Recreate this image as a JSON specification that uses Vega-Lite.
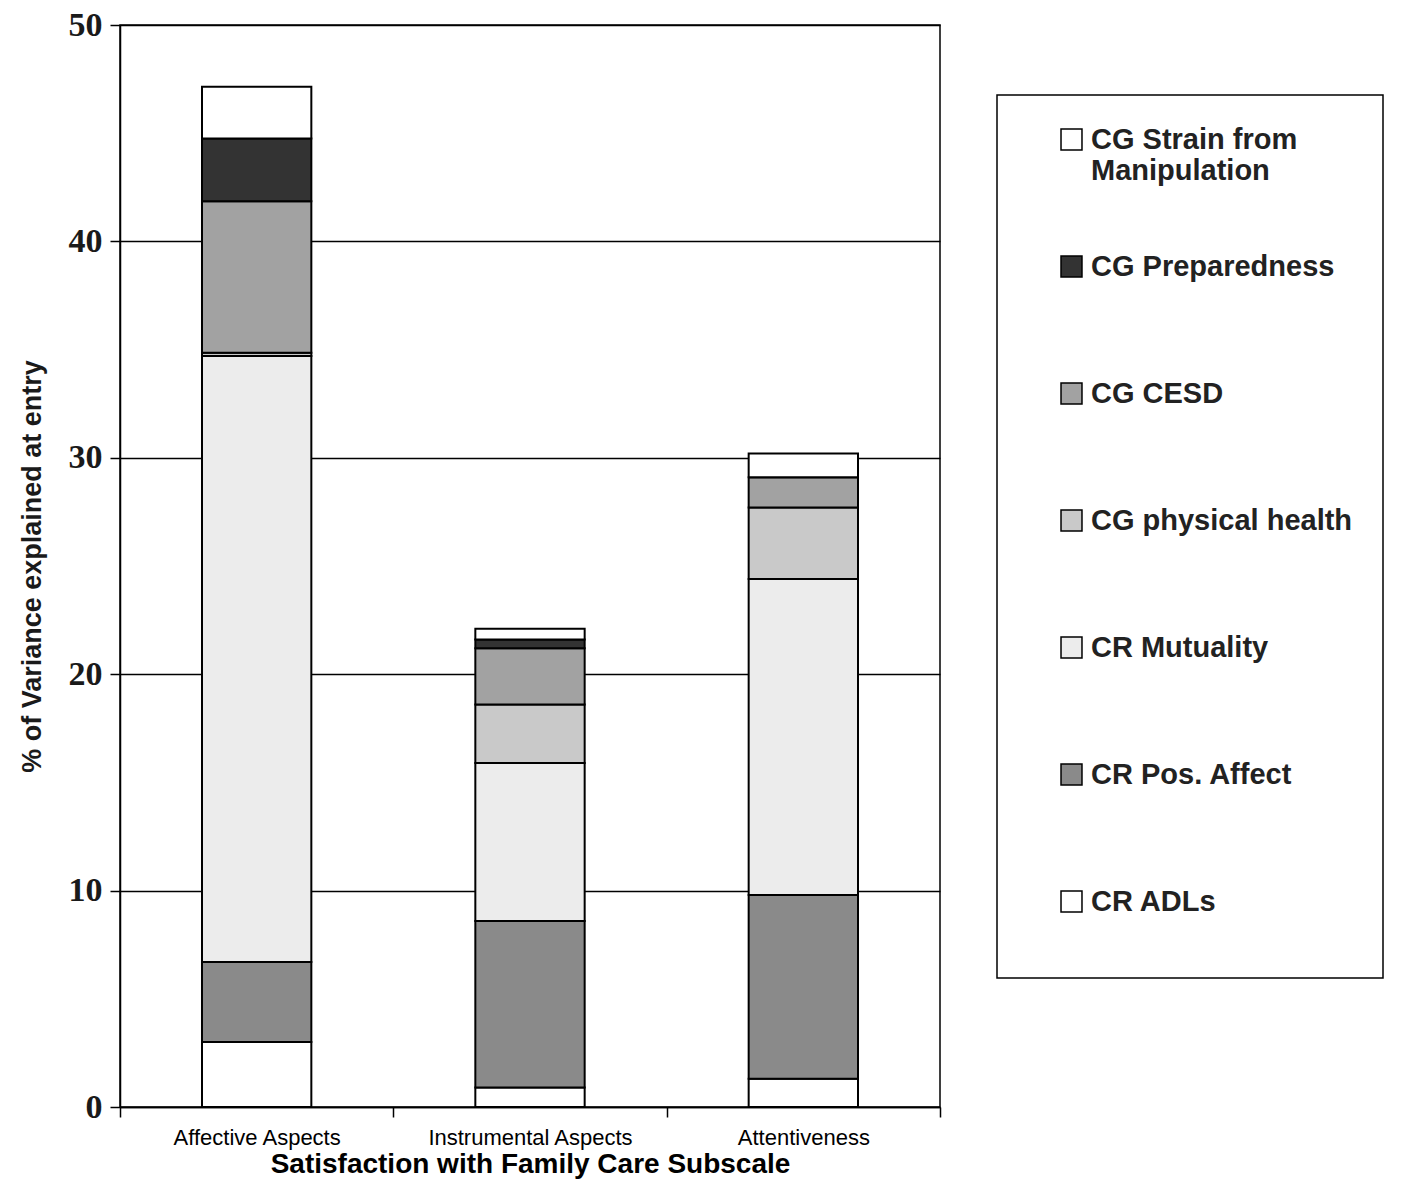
{
  "$schema": "https://vega.github.io/schema/vega-lite/v6.json",
  "width": 820,
  "height": 1082,
  "autosize": "none",
  "padding": {"left": 120, "top": 25, "right": 463, "bottom": 75},
  "background": "white",
  "config": {
    "view": {"stroke": "black", "strokeWidth": 1.5},
    "font": "Liberation Sans",
    "legend": {"strokeWidth": 1.5}
  },
  "data": {
    "values": [
      {"subscale": "Affective Aspects", "predictor": "CR ADLs", "rank": 1, "value": 3.0},
      {"subscale": "Affective Aspects", "predictor": "CR Pos. Affect", "rank": 2, "value": 3.7},
      {"subscale": "Affective Aspects", "predictor": "CR Mutuality", "rank": 3, "value": 28.0},
      {"subscale": "Affective Aspects", "predictor": "CG physical health", "rank": 4, "value": 0.15},
      {"subscale": "Affective Aspects", "predictor": "CG CESD", "rank": 5, "value": 7.0},
      {"subscale": "Affective Aspects", "predictor": "CG Preparedness", "rank": 6, "value": 2.9},
      {"subscale": "Affective Aspects", "predictor": "CG Strain from Manipulation", "rank": 7, "value": 2.4},
      {"subscale": "Instrumental Aspects", "predictor": "CR ADLs", "rank": 1, "value": 0.9},
      {"subscale": "Instrumental Aspects", "predictor": "CR Pos. Affect", "rank": 2, "value": 7.7},
      {"subscale": "Instrumental Aspects", "predictor": "CR Mutuality", "rank": 3, "value": 7.3},
      {"subscale": "Instrumental Aspects", "predictor": "CG physical health", "rank": 4, "value": 2.7},
      {"subscale": "Instrumental Aspects", "predictor": "CG CESD", "rank": 5, "value": 2.6},
      {"subscale": "Instrumental Aspects", "predictor": "CG Preparedness", "rank": 6, "value": 0.4},
      {"subscale": "Instrumental Aspects", "predictor": "CG Strain from Manipulation", "rank": 7, "value": 0.5},
      {"subscale": "Attentiveness", "predictor": "CR ADLs", "rank": 1, "value": 1.3},
      {"subscale": "Attentiveness", "predictor": "CR Pos. Affect", "rank": 2, "value": 8.5},
      {"subscale": "Attentiveness", "predictor": "CR Mutuality", "rank": 3, "value": 14.6},
      {"subscale": "Attentiveness", "predictor": "CG physical health", "rank": 4, "value": 3.3},
      {"subscale": "Attentiveness", "predictor": "CG CESD", "rank": 5, "value": 1.4},
      {"subscale": "Attentiveness", "predictor": "CG Preparedness", "rank": 6, "value": 0.0},
      {"subscale": "Attentiveness", "predictor": "CG Strain from Manipulation", "rank": 7, "value": 1.1}
    ]
  },
  "mark": {"type": "bar", "stroke": "black", "strokeWidth": 2, "width": {"band": 0.4}},
  "encoding": {
    "x": {
      "field": "subscale",
      "type": "nominal",
      "sort": ["Affective Aspects", "Instrumental Aspects", "Attentiveness"],
      "scale": {"paddingInner": 0, "paddingOuter": 0},
      "axis": {
        "title": "Satisfaction with Family Care Subscale",
        "titleFont": "Liberation Sans",
        "titleFontSize": 28,
        "titleFontWeight": "bold",
        "titleColor": "black",
        "titlePadding": 2,
        "labelAngle": 0,
        "labelFont": "Liberation Sans",
        "labelFontSize": 22,
        "labelColor": "black",
        "labelLimit": 400,
        "labelPadding": 10,
        "tickBand": "extent",
        "tickSize": 10,
        "tickColor": "black",
        "tickWidth": 1.5,
        "domainColor": "black",
        "domainWidth": 1.5
      }
    },
    "y": {
      "field": "value",
      "type": "quantitative",
      "stack": "zero",
      "scale": {"domain": [0, 50]},
      "axis": {
        "title": "% of Variance explained at entry",
        "titleFont": "Liberation Sans",
        "titleFontSize": 27,
        "titleFontWeight": "bold",
        "titleColor": "#1a1a1a",
        "titlePadding": 22,
        "values": [0, 10, 20, 30, 40, 50],
        "labelFont": "Liberation Serif",
        "labelFontSize": 34,
        "labelFontWeight": "bold",
        "labelColor": "#1a1a1a",
        "labelPadding": 8,
        "tickSize": 10,
        "tickColor": "black",
        "tickWidth": 1.5,
        "grid": true,
        "gridColor": "black",
        "gridWidth": 1.5,
        "domainColor": "black",
        "domainWidth": 1.5
      }
    },
    "color": {
      "field": "predictor",
      "type": "nominal",
      "scale": {
        "domain": ["CG Strain from Manipulation", "CG Preparedness", "CG CESD", "CG physical health", "CR Mutuality", "CR Pos. Affect", "CR ADLs"],
        "range": ["#ffffff", "#333333", "#a2a2a2", "#c9c9c9", "#ececec", "#8a8a8a", "#ffffff"]
      },
      "legend": {
        "title": null,
        "orient": "none",
        "legendX": 877,
        "legendY": 70,
        "padding": 30,
        "strokeColor": "black",
        "symbolType": "square",
        "symbolSize": 440,
        "symbolOffset": 30,
        "symbolStrokeColor": "black",
        "symbolStrokeWidth": 1.5,
        "symbolOpacity": 1,
        "labelFont": "Liberation Sans",
        "labelFontSize": 29,
        "labelFontWeight": "bold",
        "labelColor": "#222222",
        "labelLimit": 400,
        "labelOffset": 5,
        "rowPadding": 66,
        "labelExpr": "datum.label == 'CG Strain from Manipulation' ? ['CG Strain from', 'Manipulation'] : [datum.label, ' ']"
      }
    },
    "order": {"field": "rank", "type": "quantitative"}
  }
}
